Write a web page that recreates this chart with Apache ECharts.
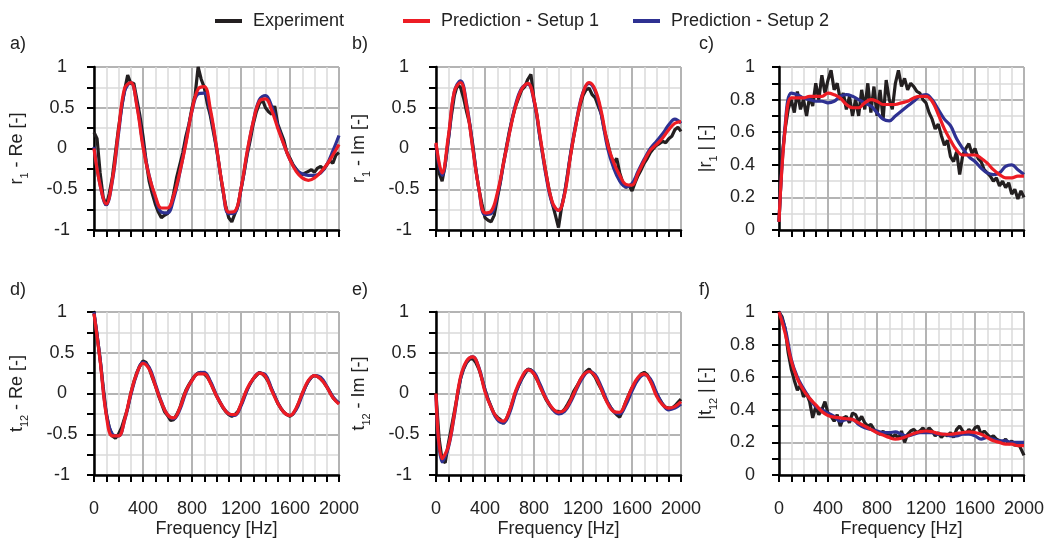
<!DOCTYPE html>
<html>
<head>
<meta charset="utf-8">
<script src="https://cdn.jsdelivr.net/npm/echarts@6/dist/echarts.min.js"></script>
<style>
  html, body { margin: 0; padding: 0; background: #fff; }
  #chart { width: 1048px; height: 545px; }
</style>
</head>
<body>
<div id="chart"></div>
<script>
// frequency samples (Hz): measurement every 25 Hz, predictions every 50 Hz
const freqExp = []
for (let f = 0; f <= 2000; f += 25) freqExp.push(f)
const freqPred = []
for (let f = 0; f <= 2000; f += 50) freqPred.push(f)

const xTicks = [0, 400, 800, 1200, 1600, 2000]

// a) r1 - Re
const expRRe = [
  0.20, 0.12, -0.30, -0.60, -0.70, -0.55, -0.35, -0.05,
  0.25, 0.50, 0.72, 0.90, 0.80, 0.80, 0.60, 0.40,
  0.15, -0.15, -0.40, -0.55, -0.68, -0.78, -0.85, -0.82,
  -0.80, -0.72, -0.55, -0.35, -0.20, -0.05, 0.15, 0.30,
  0.50, 0.65, 1.00, 0.85, 0.75, 0.55, 0.40, 0.20,
  0.00, -0.25, -0.50, -0.70, -0.85, -0.90, -0.80, -0.70,
  -0.50, -0.30, -0.08, 0.10, 0.30, 0.45, 0.55, 0.60,
  0.50, 0.45, 0.42, 0.52, 0.30, 0.20, 0.10, -0.05,
  -0.12, -0.20, -0.25, -0.30, -0.32, -0.30, -0.28, -0.26,
  -0.29, -0.24, -0.22, -0.26, -0.20, -0.15, -0.18, -0.08,
  -0.05
]
const s1RRe = [
  0.00, -0.45, -0.68, -0.38, 0.22, 0.74, 0.81, 0.52, 0.02, -0.34,
  -0.58, -0.73, -0.73, -0.58, -0.29, 0.06, 0.47, 0.73, 0.76, 0.48,
  0.02, -0.47, -0.78, -0.77, -0.49, -0.04, 0.33, 0.58, 0.61, 0.47,
  0.25, 0.05, -0.14, -0.28, -0.36, -0.39, -0.36, -0.29, -0.20, -0.08,
  0.05
]
const s2RRe = [
  0.02, -0.45, -0.69, -0.40, 0.18, 0.70, 0.81, 0.54, 0.05, -0.33,
  -0.60, -0.78, -0.79, -0.62, -0.30, 0.08, 0.46, 0.67, 0.68, 0.44,
  0.01, -0.48, -0.80, -0.79, -0.50, -0.06, 0.33, 0.60, 0.65, 0.52,
  0.28, 0.05, -0.14, -0.26, -0.31, -0.33, -0.33, -0.30, -0.20, -0.03,
  0.16
]

// b) r1 - Im
const expRIm = [
  0.05, -0.30, -0.40, -0.20, 0.10, 0.40, 0.65, 0.78,
  0.75, 0.62, 0.45, 0.30, 0.05, -0.25, -0.50, -0.68,
  -0.85, -0.88, -0.90, -0.82, -0.62, -0.42, -0.18, 0.02,
  0.22, 0.38, 0.52, 0.62, 0.72, 0.76, 0.85, 0.91,
  0.60, 0.40, 0.12, -0.10, -0.32, -0.52, -0.68, -0.82,
  -0.97, -0.72, -0.55, -0.30, -0.06, 0.15, 0.35, 0.52,
  0.65, 0.72, 0.74, 0.66, 0.62, 0.52, 0.42, 0.22,
  0.08, -0.08, -0.18, -0.12, -0.30, -0.42, -0.48, -0.45,
  -0.52, -0.42, -0.33, -0.26, -0.18, -0.12, -0.05, 0.00,
  0.04, 0.06, 0.09, 0.07, 0.12, 0.15, 0.23, 0.26,
  0.21
]
const s1RIm = [
  0.07, -0.30, 0.14, 0.70, 0.81, 0.52, 0.00, -0.49, -0.79, -0.77,
  -0.55, -0.19, 0.19, 0.52, 0.73, 0.80, 0.60, 0.15, -0.32, -0.66,
  -0.76, -0.56, -0.07, 0.35, 0.68, 0.81, 0.72, 0.45, 0.06, -0.17,
  -0.33, -0.44, -0.45, -0.30, -0.15, -0.02, 0.05, 0.13, 0.23, 0.31,
  0.33
]
const s2RIm = [
  0.05, -0.33, 0.10, 0.70, 0.83, 0.55, 0.02, -0.49, -0.81, -0.80,
  -0.58, -0.20, 0.20, 0.54, 0.74, 0.79, 0.58, 0.12, -0.35, -0.68,
  -0.76, -0.54, -0.05, 0.37, 0.69, 0.80, 0.70, 0.41, 0.01, -0.24,
  -0.40, -0.47, -0.43, -0.28, -0.13, 0.00, 0.09, 0.18, 0.29, 0.36,
  0.31
]

// c) |r1|
const expRAbs = [
  0.05, 0.45, 0.62, 0.74, 0.80, 0.72, 0.85, 0.74,
  0.80, 0.70, 0.82, 0.76, 0.90, 0.80, 0.95, 0.84,
  0.92, 0.98, 0.86, 0.90, 0.80, 0.84, 0.74, 0.82,
  0.70, 0.80, 0.70, 0.86, 0.74, 0.90, 0.72, 0.88,
  0.70, 0.86, 0.68, 0.92, 0.80, 0.74, 0.90, 0.98,
  0.88, 0.93, 0.86, 0.90, 0.88, 0.85, 0.84, 0.80,
  0.78, 0.72, 0.68, 0.62, 0.65, 0.58, 0.52, 0.55,
  0.45, 0.42, 0.48, 0.34, 0.46, 0.50, 0.53, 0.47,
  0.50, 0.44, 0.42, 0.37, 0.35, 0.33, 0.30, 0.32,
  0.27, 0.30, 0.26, 0.29, 0.22, 0.25, 0.19, 0.24,
  0.20
]
const s1RAbs = [
  0.05, 0.62, 0.81, 0.81, 0.81, 0.82, 0.82, 0.82, 0.84, 0.83,
  0.81, 0.77, 0.75, 0.75, 0.78, 0.80, 0.79, 0.77, 0.77, 0.77,
  0.78, 0.79, 0.81, 0.82, 0.82, 0.79, 0.71, 0.62, 0.55, 0.49,
  0.46, 0.46, 0.46, 0.44, 0.41, 0.37, 0.34, 0.32, 0.32, 0.33,
  0.33
]
const s2RAbs = [
  0.05, 0.64, 0.84, 0.83, 0.81, 0.80, 0.79, 0.79, 0.78, 0.79,
  0.82, 0.83, 0.82, 0.80, 0.78, 0.76, 0.72, 0.68, 0.67, 0.70,
  0.73, 0.76, 0.79, 0.82, 0.83, 0.80, 0.74, 0.68, 0.64, 0.56,
  0.50, 0.45, 0.42, 0.38, 0.35, 0.34, 0.35, 0.39, 0.40, 0.37,
  0.34
]

// d) t12 - Re
const expTRe = [
  0.98, 0.72, 0.42, 0.08, -0.24, -0.42, -0.52, -0.55,
  -0.50, -0.42, -0.30, -0.18, 0.00, 0.14, 0.26, 0.34,
  0.40, 0.38, 0.31, 0.20, 0.10, -0.02, -0.12, -0.22,
  -0.27, -0.33, -0.32, -0.26, -0.18, -0.06, 0.04, 0.11,
  0.17, 0.22, 0.25, 0.26, 0.24, 0.20, 0.14, 0.05,
  -0.03, -0.10, -0.17, -0.22, -0.26, -0.28, -0.26, -0.22,
  -0.14, -0.04, 0.05, 0.12, 0.18, 0.22, 0.26, 0.24,
  0.20, 0.14, 0.05, -0.03, -0.12, -0.18, -0.23, -0.26,
  -0.28, -0.25, -0.19, -0.10, 0.00, 0.08, 0.15, 0.20,
  0.22, 0.21, 0.18, 0.14, 0.08, 0.02, -0.05, -0.09,
  -0.12
]
const s1TRe = [
  0.98, 0.40, -0.26, -0.52, -0.52, -0.32, 0.00, 0.25, 0.37, 0.30,
  0.10, -0.11, -0.26, -0.30, -0.18, 0.03, 0.16, 0.24, 0.24, 0.13,
  -0.03, -0.16, -0.25, -0.26, -0.13, 0.06, 0.18, 0.25, 0.21, 0.04,
  -0.12, -0.23, -0.27, -0.18, 0.00, 0.16, 0.22, 0.18, 0.08, -0.05,
  -0.13
]
const s2TRe = [
  1.00, 0.42, -0.24, -0.50, -0.52, -0.33, -0.02, 0.24, 0.38, 0.32,
  0.12, -0.10, -0.26, -0.31, -0.20, 0.01, 0.16, 0.25, 0.26, 0.15,
  -0.02, -0.16, -0.25, -0.27, -0.15, 0.04, 0.18, 0.25, 0.23, 0.06,
  -0.11, -0.23, -0.27, -0.20, -0.02, 0.15, 0.22, 0.20, 0.09, -0.04,
  -0.12
]

// e) t12 - Im
const expTIm = [
  0.00, -0.55, -0.82, -0.85, -0.62, -0.42, -0.22, -0.02,
  0.18, 0.30, 0.38, 0.42, 0.43, 0.38, 0.30, 0.18,
  0.05, -0.07, -0.16, -0.25, -0.29, -0.32, -0.37, -0.31,
  -0.22, -0.10, 0.02, 0.10, 0.18, 0.24, 0.30, 0.29,
  0.24, 0.17, 0.09, 0.00, -0.08, -0.14, -0.19, -0.22,
  -0.22, -0.23, -0.19, -0.13, -0.06, 0.03, 0.09, 0.16,
  0.22, 0.27, 0.30, 0.25, 0.20, 0.12, 0.05, -0.04,
  -0.11, -0.17, -0.22, -0.26, -0.29, -0.20, -0.10, -0.01,
  0.07, 0.13, 0.19, 0.24, 0.26, 0.23, 0.16, 0.08,
  0.00, -0.07, -0.13, -0.17, -0.18, -0.18, -0.15, -0.11,
  -0.07
]
const s1TIm = [
  0.00, -0.80, -0.65, -0.25, 0.20, 0.40, 0.45, 0.31, 0.02, -0.17,
  -0.30, -0.34, -0.21, 0.03, 0.20, 0.29, 0.24, 0.08, -0.07, -0.18,
  -0.23, -0.20, -0.08, 0.08, 0.22, 0.27, 0.21, 0.05, -0.12, -0.22,
  -0.23, -0.10, 0.07, 0.20, 0.24, 0.15, -0.03, -0.14, -0.18, -0.16,
  -0.10
]
const s2TIm = [
  -0.02, -0.84, -0.67, -0.27, 0.18, 0.39, 0.45, 0.32, 0.04, -0.17,
  -0.32, -0.36, -0.24, 0.00, 0.18, 0.29, 0.26, 0.11, -0.06, -0.19,
  -0.25, -0.22, -0.10, 0.06, 0.20, 0.27, 0.23, 0.08, -0.10, -0.22,
  -0.25, -0.14, 0.03, 0.17, 0.23, 0.18, 0.01, -0.13, -0.20, -0.18,
  -0.13
]

// f) |t12|
const expTAbs = [
  1.00, 0.97, 0.90, 0.75, 0.65, 0.58, 0.52, 0.55,
  0.48, 0.50, 0.45, 0.35, 0.42, 0.37, 0.40, 0.45,
  0.38, 0.36, 0.33, 0.37, 0.30, 0.35, 0.36, 0.32,
  0.38, 0.37, 0.33, 0.36, 0.32, 0.30, 0.31, 0.28,
  0.26, 0.25, 0.27, 0.24, 0.26, 0.23, 0.25, 0.22,
  0.27, 0.20, 0.25, 0.27, 0.28, 0.26, 0.27, 0.29,
  0.26, 0.29, 0.27, 0.24, 0.26, 0.23, 0.25, 0.24,
  0.26, 0.23, 0.28, 0.30, 0.27, 0.25, 0.28, 0.26,
  0.29, 0.30, 0.25, 0.27, 0.25, 0.23, 0.24, 0.22,
  0.21, 0.20, 0.22, 0.19, 0.21, 0.18, 0.20, 0.16,
  0.12
]
const s1TAbs = [
  1.00, 0.87, 0.70, 0.59, 0.52, 0.47, 0.43, 0.39, 0.365, 0.355,
  0.35, 0.345, 0.34, 0.32, 0.30, 0.28, 0.26, 0.245, 0.23, 0.22,
  0.225, 0.24, 0.255, 0.265, 0.27, 0.265, 0.255, 0.25, 0.25, 0.255,
  0.26, 0.265, 0.26, 0.25, 0.23, 0.21, 0.20, 0.19, 0.19, 0.18,
  0.18
]
const s2TAbs = [
  1.00, 0.90, 0.71, 0.60, 0.53, 0.47, 0.42, 0.40, 0.38, 0.36,
  0.33, 0.34, 0.34, 0.31, 0.29, 0.28, 0.27, 0.26, 0.26, 0.265,
  0.25, 0.24, 0.25, 0.26, 0.26, 0.26, 0.25, 0.25, 0.24, 0.24,
  0.25, 0.25, 0.24, 0.22, 0.23, 0.22, 0.21, 0.21, 0.20, 0.20,
  0.20
]

const NAMES = ['Experiment', 'Prediction - Setup 1', 'Prediction - Setup 2']
const COLORS = ['#231f20', '#ed1c24', '#2e3192']
const FONT = 'Liberation Sans, Arial, sans-serif'
const FS = 18

// one entry per sub-plot
const panels = [
  { tag: 'a)', name: '{n|r}{s|1}{n| - Re [-]}', y: [-1, 1, 0.5], exp: expRRe, s1: s1RRe, s2: s2RRe },
  { tag: 'b)', name: '{n|r}{s|1}{n| - Im [-]}', y: [-1, 1, 0.5], exp: expRIm, s1: s1RIm, s2: s2RIm },
  { tag: 'c)', name: '{n||r}{s|1}{n| | [-]}', y: [0, 1, 0.2], exp: expRAbs, s1: s1RAbs, s2: s2RAbs },
  { tag: 'd)', name: '{n|t}{s|12}{n| - Re [-]}', y: [-1, 1, 0.5], exp: expTRe, s1: s1TRe, s2: s2TRe },
  { tag: 'e)', name: '{n|t}{s|12}{n| - Im [-]}', y: [-1, 1, 0.5], exp: expTIm, s1: s1TIm, s2: s2TIm },
  { tag: 'f)', name: '{n||t}{s|12}{n| | [-]}', y: [0, 1, 0.2], exp: expTAbs, s1: s1TAbs, s2: s2TAbs }
]
const lefts = [94, 436, 779]
const tops = [67, 312]
const tagLefts = [5, 347, 694]
const tagTops = [30, 276]

const pairs = (xs, ys) => ys.map((v, i) => [xs[i], v])

const tickStyle = { color: '#000', width: 2 }

const grid = [], xAxis = [], yAxis = [], series = [], title = []
panels.forEach((p, i) => {
  const col = i % 3
  const row = Math.floor(i / 3)
  const isAbs = p.y[0] === 0
  grid.push({ left: lefts[col], top: tops[row], width: 245, height: 163 })
  title.push({
    text: p.tag, left: tagLefts[col], top: tagTops[row],
    textStyle: { fontFamily: FONT, fontSize: FS, fontWeight: 'normal', color: '#222' }
  })
  xAxis.push({
    gridIndex: i,
    type: 'value',
    min: 0,
    max: 2000,
    interval: 400,
    name: row === 1 ? 'Frequency [Hz]' : '',
    nameLocation: 'middle',
    nameGap: 45,
    nameTextStyle: { fontFamily: FONT, fontSize: FS, color: '#222' },
    axisLine: { show: true, onZero: false, lineStyle: { color: '#000', width: 2.5 } },
    axisTick: { show: true, length: 7, lineStyle: tickStyle },
    minorTick: { show: true, splitNumber: 4, length: 7, lineStyle: tickStyle },
    axisLabel: {
      show: row === 1, margin: 25, fontFamily: FONT, fontSize: FS, color: '#222',
      formatter: (v) => (xTicks.includes(v) ? String(v) : '')
    },
    splitLine: { show: true, lineStyle: { color: '#b4b4b4', width: 2 } },
    minorSplitLine: { show: true, lineStyle: { color: '#dadada', width: 1.5 } }
  })
  yAxis.push({
    gridIndex: i,
    type: 'value',
    min: p.y[0],
    max: p.y[1],
    interval: p.y[2],
    name: p.name,
    nameLocation: 'middle',
    nameGap: isAbs ? 60 : 64,
    nameTextStyle: {
      fontFamily: FONT,
      rich: {
        n: { fontFamily: FONT, fontSize: FS, lineHeight: 22, verticalAlign: 'top', color: '#222' },
        s: { fontFamily: FONT, fontSize: 11, lineHeight: 11, verticalAlign: 'bottom', color: '#222' }
      }
    },
    axisLine: { show: true, lineStyle: { color: '#000', width: 2.5 } },
    axisTick: { show: true, length: 7, lineStyle: tickStyle },
    minorTick: { show: true, splitNumber: 2, length: 7, lineStyle: tickStyle },
    axisLabel: {
      fontFamily: FONT, fontSize: FS, color: '#222',
      align: isAbs ? 'right' : 'center',
      margin: isAbs ? 24 : 32
    },
    splitLine: { show: true, lineStyle: { color: '#b4b4b4', width: 2 } },
    minorSplitLine: { show: true, lineStyle: { color: '#dadada', width: 1.5 } }
  })
  const lines = [
    { data: pairs(freqExp, p.exp), w: 3.2, smooth: false, z: 2 },
    { data: pairs(freqPred, p.s1), w: 3.2, smooth: 0.4, z: 4 },
    { data: pairs(freqPred, p.s2), w: 3.2, smooth: 0.4, z: 3 }
  ]
  lines.forEach((l, k) => {
    series.push({
      type: 'line',
      name: NAMES[k],
      xAxisIndex: i,
      yAxisIndex: i,
      data: l.data,
      smooth: l.smooth,
      symbol: 'none',
      z: l.z,
      color: COLORS[k],
      itemStyle: { color: COLORS[k] },
      lineStyle: { color: COLORS[k], width: l.w }
    })
  })
})

const legendBase = {
  top: 7,
  icon: 'rect',
  itemWidth: 27,
  itemHeight: 4,
  textStyle: { fontFamily: FONT, fontSize: FS, color: '#222', padding: [0, 0, 0, 6] }
}

const chart = echarts.init(document.getElementById('chart'))
chart.setOption({
  animation: false,
  backgroundColor: '#fff',
  title,
  legend: [
    Object.assign({ data: [NAMES[0]], left: 210 }, legendBase),
    Object.assign({ data: [NAMES[1]], left: 398 }, legendBase),
    Object.assign({ data: [NAMES[2]], left: 628 }, legendBase)
  ],
  grid,
  xAxis,
  yAxis,
  series
})
</script>
</body>
</html>
